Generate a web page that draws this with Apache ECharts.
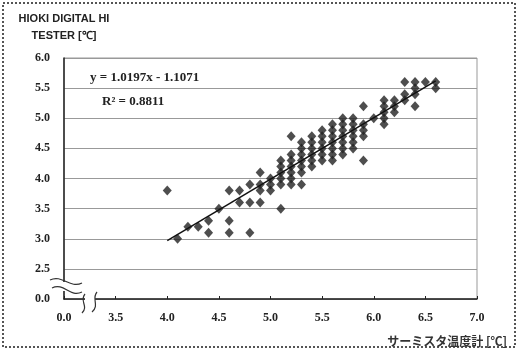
<!DOCTYPE html>
<html>
<head>
<meta charset="utf-8">
<script src="https://cdn.jsdelivr.net/npm/echarts@6/dist/echarts.min.js"></script>
<style>
  html, body { margin: 0; padding: 0; background: #fff; }
  #main { width: 519px; height: 351px; }
</style>
</head>
<body>
<div id="main"></div>
<script>
// サーミスタ温度計 (x) と HIOKI の読み (y)
const xs = [
  4.0, 4.1, 4.2, 4.3, 4.4, 4.4, 4.5, 4.6, 4.6, 4.6, 4.7, 4.7, 4.8, 4.8, 4.8,
  4.9, 4.9, 4.9, 4.9, 5.0, 5.0, 5.0,
  5.1, 5.1, 5.1, 5.1, 5.1, 5.1,
  5.2, 5.2, 5.2, 5.2, 5.2, 5.2, 5.2,
  5.3, 5.3, 5.3, 5.3, 5.3, 5.3, 5.3,
  5.4, 5.4, 5.4, 5.4, 5.4, 5.4,
  5.5, 5.5, 5.5, 5.5, 5.5, 5.5,
  5.6, 5.6, 5.6, 5.6, 5.6, 5.6, 5.6,
  5.7, 5.7, 5.7, 5.7, 5.7, 5.7, 5.7,
  5.8, 5.8, 5.8, 5.8, 5.8, 5.8,
  5.9, 5.9, 5.9, 5.9, 5.9,
  6.0,
  6.1, 6.1, 6.1, 6.1, 6.1,
  6.2, 6.2, 6.2,
  6.3, 6.3, 6.3,
  6.4, 6.4, 6.4, 6.4,
  6.5,
  6.6, 6.6
];
const ys = [
  3.8, 3.0, 3.2, 3.2, 3.3, 3.1, 3.5, 3.8, 3.3, 3.1, 3.8, 3.6, 3.9, 3.6, 3.1,
  4.1, 3.9, 3.8, 3.6, 4.0, 3.9, 3.8,
  4.3, 4.2, 4.1, 4.0, 3.9, 3.5,
  4.7, 4.4, 4.3, 4.2, 4.1, 4.0, 3.9,
  4.6, 4.5, 4.4, 4.3, 4.2, 4.1, 3.9,
  4.7, 4.6, 4.5, 4.4, 4.3, 4.2,
  4.8, 4.7, 4.6, 4.5, 4.4, 4.3,
  4.9, 4.8, 4.7, 4.6, 4.5, 4.4, 4.3,
  5.0, 4.9, 4.8, 4.7, 4.6, 4.5, 4.4,
  5.0, 4.9, 4.8, 4.7, 4.6, 4.5,
  5.2, 4.9, 4.8, 4.7, 4.3,
  5.0,
  5.3, 5.2, 5.1, 5.0, 4.9,
  5.3, 5.2, 5.1,
  5.6, 5.4, 5.3,
  5.6, 5.5, 5.4, 5.2,
  5.6,
  5.6, 5.5
];
// 近似直線の端点
const trendX = [4.0, 6.6];
const trendY = [2.97, 5.62];

const xTicks = [3.0, 3.5, 4.0, 4.5, 5.0, 5.5, 6.0, 6.5, 7.0];
const yTicks = [2.0, 2.5, 3.0, 3.5, 4.0, 4.5, 5.0, 5.5, 6.0];

const labelFont = {
  fontFamily: '"Liberation Serif", "DejaVu Serif", serif',
  fontWeight: 'bold',
  fontSize: 12,
  color: '#222'
};

const chart = echarts.init(document.getElementById('main'));

const option = {
  animation: false,
  backgroundColor: '#fff',
  title: [
    {
      text: 'y = 1.0197x - 1.1071',
      left: 85, top: 66,
      textStyle: { fontFamily: '"Liberation Serif", serif', fontWeight: 'bold', fontSize: 13, color: '#222' }
    },
    {
      text: 'R² = 0.8811',
      left: 97, top: 90,
      textStyle: { fontFamily: '"Liberation Serif", serif', fontWeight: 'bold', fontSize: 13, color: '#222' }
    },
    {
      text: 'サーミスタ温度計 [℃]',
      right: 7, top: 330,
      textStyle: { fontFamily: '"Noto Sans CJK JP", sans-serif', fontWeight: 'bold', fontSize: 12, color: '#333' }
    }
  ],
  grid: {
    left: 64, right: 42, top: 58, bottom: 52,
    show: true, borderColor: '#999', borderWidth: 1
  },
  xAxis: {
    type: 'value',
    min: xTicks[0], max: xTicks[xTicks.length - 1], interval: 0.5,
    axisLine: { lineStyle: { color: '#222', width: 1.5 } },
    axisTick: { show: true, inside: true, length: 3, lineStyle: { color: '#222' } },
    splitLine: { show: false },
    axisLabel: Object.assign({}, labelFont, {
      margin: 13,
      formatter: v => (v === xTicks[0] ? '0.0' : v.toFixed(1))
    })
  },
  yAxis: {
    type: 'value',
    min: yTicks[0], max: yTicks[yTicks.length - 1], interval: 0.5,
    name: 'HIOKI DIGITAL HI\nTESTER [℃]',
    nameLocation: 'end',
    nameGap: 14,
    nameTextStyle: {
      fontFamily: '"Liberation Sans Narrow", "Liberation Sans", Arial, sans-serif',
      fontWeight: 'bold', fontSize: 11, lineHeight: 17, color: '#222', align: 'center'
    },
    axisLine: { show: true, lineStyle: { color: '#222', width: 1.5 } },
    axisTick: { show: false },
    splitLine: { lineStyle: { color: '#999', width: 1 } },
    axisLabel: Object.assign({}, labelFont, {
      margin: 14,
      formatter: v => (v === yTicks[0] ? '0.0' : v.toFixed(1))
    })
  },
  series: [
    {
      type: 'scatter',
      symbol: 'diamond',
      symbolSize: [9, 10],
      itemStyle: { color: '#222' },
      data: xs.map((x, i) => [x, ys[i]]),
      z: 3
    },
    {
      type: 'line',
      symbol: 'none',
      lineStyle: { color: '#111', width: 1.5 },
      data: trendX.map((x, i) => [x, trendY[i]]),
      z: 4
    }
  ]
};

chart.setOption(option);

// 軸の省略記号 (波線) と外枠
const o = chart.convertToPixel({ gridIndex: 0 }, [xTicks[0], yTicks[0]]);
const ox = o[0], oy = o[1];
const wave = (x1, y1, x2, y2, c1x, c1y, c2x, c2y) => ({
  type: 'bezierCurve',
  shape: { x1, y1, x2, y2, cpx1: c1x, cpy1: c1y, cpx2: c2x, cpy2: c2y },
  style: { stroke: '#333', lineWidth: 1.2, fill: null },
  z: 10
});
chart.setOption({
  graphic: [
    {
      type: 'rect',
      shape: { x: 3, y: 3, width: 512, height: 344 },
      style: { fill: null, stroke: '#555', lineWidth: 2, lineDash: [2, 2] },
      silent: true
    },
    { type: 'rect', shape: { x: ox - 3, y: oy - 17, width: 6, height: 9 }, style: { fill: '#fff' }, z: 9 },
    { type: 'rect', shape: { x: ox + 21, y: oy - 3, width: 10, height: 6 }, style: { fill: '#fff' }, z: 9 },
    wave(ox - 14, oy - 19, ox + 18, oy - 16, ox - 2, oy - 25, ox + 6, oy - 10),
    wave(ox - 12, oy - 11, ox + 18, oy - 7, ox, oy - 17, ox + 6, oy - 1),
    wave(ox + 21, oy - 5, ox + 18, oy + 14, ox + 15, oy + 2, ox + 25, oy + 7),
    wave(ox + 33, oy - 7, ox + 28, oy + 13, ox + 27, oy, ox + 36, oy + 6)
  ]
});
</script>
</body>
</html>
